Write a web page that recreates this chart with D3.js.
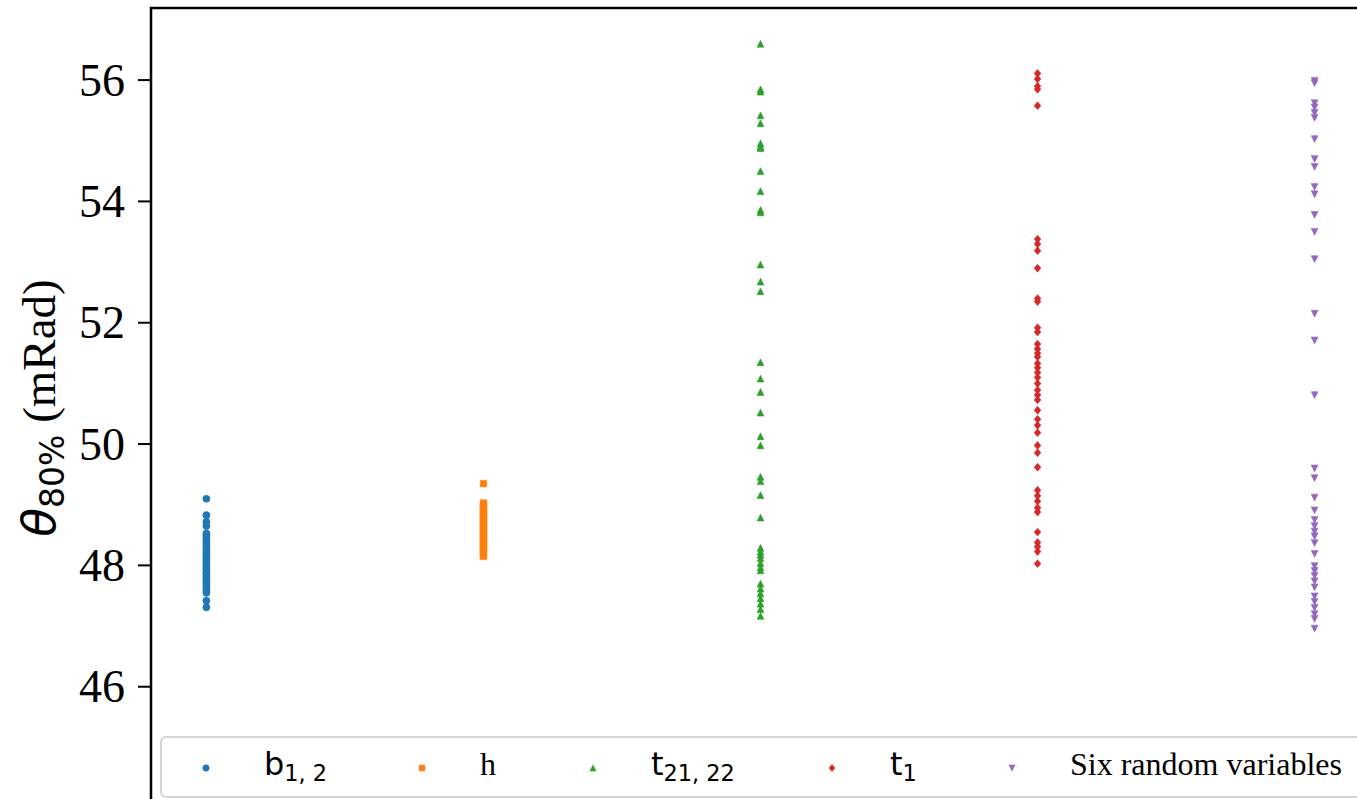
<!DOCTYPE html>
<html lang="en">
<head>
    <meta charset="UTF-8">
    <title>theta 80% scatter</title>
    <script src="https://d3js.org/d3.v7.min.js"></script>
    <style>
        body { margin: 0; background: #fff; }
        svg { display: block; }
    </style>
</head>
<body>
    <div id="chart"></div>
    <script>
        // category order along x
        const groups = ["b12", "h", "t2122", "t1", "six"];
        const colors = ["#1f77b4", "#ff7f0e", "#2ca02c", "#d62728", "#9467bd"];
        const yTicks = [46, 48, 50, 52, 54, 56];

        // values (mRad)
        const b12Vals = [49.09, 48.82, 48.71, 48.64, 48.52, 48.49, 48.45, 48.41, 48.37, 48.33, 48.29, 48.25,
            48.21, 48.17, 48.13, 48.10, 48.06, 48.02, 47.99, 47.95, 47.92, 47.88, 47.85, 47.81, 47.78, 47.74,
            47.70, 47.66, 47.62, 47.58, 47.54, 47.41, 47.30];
        const hVals = [49.34, 49.02, 48.98, 48.94, 48.91, 48.87, 48.83, 48.80, 48.76, 48.72, 48.69, 48.65,
            48.61, 48.58, 48.54, 48.50, 48.47, 48.43, 48.39, 48.36, 48.32, 48.28, 48.25, 48.21, 48.17, 48.14];
        const t2122Vals = [56.59, 55.84, 55.80, 55.41, 55.28, 54.95, 54.90, 54.87, 54.49, 54.16, 53.85, 53.81,
            52.95, 52.67, 52.51, 51.34, 51.07, 50.85, 50.51, 50.12, 49.97, 49.45, 49.38, 49.15, 48.78, 48.28,
            48.22, 48.17, 48.11, 48.03, 47.96, 47.91, 47.69, 47.61, 47.53, 47.45, 47.36, 47.27, 47.16];
        const t1Vals = [56.10, 56.01, 55.89, 55.84, 55.57, 53.37, 53.29, 53.18, 52.89, 52.39, 52.34, 51.91,
            51.84, 51.64, 51.56, 51.49, 51.43, 51.32, 51.25, 51.17, 51.09, 50.99, 50.88, 50.80, 50.72, 50.55,
            50.40, 50.30, 50.18, 49.97, 49.85, 49.61, 49.23, 49.14, 49.05, 48.94, 48.87, 48.54, 48.37, 48.30,
            48.22, 48.02];
        const sixVals = [55.98, 55.94, 55.61, 55.54, 55.45, 55.37, 55.02, 54.69, 54.56, 54.23, 54.11, 53.77,
            53.49, 53.04, 52.14, 51.70, 50.80, 49.59, 49.43, 49.11, 48.90, 48.74, 48.64, 48.55, 48.47, 48.36,
            48.18, 47.98, 47.90, 47.82, 47.73, 47.63, 47.48, 47.39, 47.29, 47.19, 47.11, 46.95];

        const series = [b12Vals, hVals, t2122Vals, t1Vals, sixVals];

        const W = 1357, H = 799;
        const axLeft = 151, axTop = 8, axRight = 1370, axBottom = 830;

        const svg = d3.select("#chart").append("svg")
            .attr("width", W)
            .attr("height", H);

        const x = d3.scaleLinear().domain([-0.2, 4.2]).range([axLeft, axRight]);
        const y = d3.scaleLinear().domain([43.63, 57.18]).range([axBottom, axTop]);

        // matplotlib-like marker shapes
        const tri = {
            draw(ctx, size) {
                const r = Math.sqrt(size) / 2;
                ctx.moveTo(0, -r); ctx.lineTo(r, r); ctx.lineTo(-r, r); ctx.closePath();
            }
        };
        const triDown = {
            draw(ctx, size) {
                const r = Math.sqrt(size) / 2;
                ctx.moveTo(0, r); ctx.lineTo(r, -r); ctx.lineTo(-r, -r); ctx.closePath();
            }
        };
        const diamond = {
            draw(ctx, size) {
                const r = Math.sqrt(size) / 2;
                ctx.moveTo(0, -r); ctx.lineTo(r * 0.85, 0); ctx.lineTo(0, r); ctx.lineTo(-r * 0.85, 0); ctx.closePath();
            }
        };
        const shapes = [d3.symbolCircle, d3.symbolSquare, tri, diamond, triDown];
        const sizes = [40, 42, 46, 62, 46];

        const plot = svg.append("g");
        series.forEach((vals, i) => {
            plot.append("g")
                .selectAll("path")
                .data(vals)
                .join("path")
                .attr("transform", d => `translate(${x(i)},${y(d)})`)
                .attr("d", d3.symbol().type(shapes[i]).size(sizes[i]))
                .attr("fill", colors[i])
                .attr("stroke", colors[i])
                .attr("stroke-width", 0.6);
        });

        // y axis
        const yAxis = svg.append("g")
            .attr("transform", `translate(${axLeft},0)`)
            .call(d3.axisLeft(y).tickValues(yTicks).tickSize(13).tickPadding(13).tickFormat(d3.format("d")));
        yAxis.select(".domain").remove();
        yAxis.selectAll(".tick line").attr("stroke", "#000").attr("stroke-width", 2);
        yAxis.selectAll(".tick text")
            .attr("font-family", "'Liberation Serif', 'Times New Roman', serif")
            .attr("font-size", 46)
            .attr("fill", "#000")
            .attr("dy", "0.34em");

        // spines (left and top visible, the rest falls outside the picture)
        svg.append("rect")
            .attr("x", axLeft).attr("y", axTop)
            .attr("width", axRight - axLeft).attr("height", axBottom - axTop)
            .attr("fill", "none").attr("stroke", "#000").attr("stroke-width", 2.5);

        // y label
        const yl = svg.append("text")
            .attr("transform", `translate(55,408) rotate(-90)`)
            .attr("text-anchor", "middle")
            .attr("fill", "#000");
        yl.append("tspan")
            .attr("font-family", "'DejaVu Sans', sans-serif")
            .attr("font-style", "italic")
            .attr("font-size", 47)
            .text("θ");
        yl.append("tspan")
            .attr("font-family", "'DejaVu Sans', sans-serif")
            .attr("font-size", 33)
            .attr("dy", 9)
            .text("80%");
        yl.append("tspan")
            .attr("font-family", "'Liberation Serif', serif")
            .attr("font-size", 47)
            .attr("dy", -9)
            .text(" (mRad)");

        // legend
        const legendX = [206, 422, 593, 832, 1012];
        const legendMain = ["b", "h", "t", "t", "Six random variables"];
        const legendSub = ["1, 2", "", "21, 22", "1", ""];
        const legendSerif = [false, true, false, false, true];
        const legendY = 768;

        const lg = svg.append("g");
        lg.append("rect")
            .attr("x", 161).attr("y", 737)
            .attr("width", 1205).attr("height", 60)
            .attr("rx", 5)
            .attr("fill", "#fff").attr("fill-opacity", 0.8)
            .attr("stroke", "#d3d3d3").attr("stroke-width", 2);

        groups.forEach((g, i) => {
            lg.append("path")
                .attr("transform", `translate(${legendX[i]},${legendY})`)
                .attr("d", d3.symbol().type(shapes[i]).size(sizes[i] * 0.8))
                .attr("fill", colors[i])
                .attr("stroke", colors[i])
                .attr("stroke-width", 0.6);
            const t = lg.append("text")
                .attr("x", legendX[i] + 58)
                .attr("y", 775)
                .attr("fill", "#000")
                .attr("font-size", 32)
                .attr("font-family", legendSerif[i] ? "'Liberation Serif', serif" : "'DejaVu Sans', sans-serif");
            t.append("tspan").text(legendMain[i]);
            if (legendSub[i]) {
                t.append("tspan")
                    .attr("font-size", 22.4)
                    .attr("dy", 6)
                    .text(legendSub[i]);
            }
        });
    </script>
</body>
</html>
